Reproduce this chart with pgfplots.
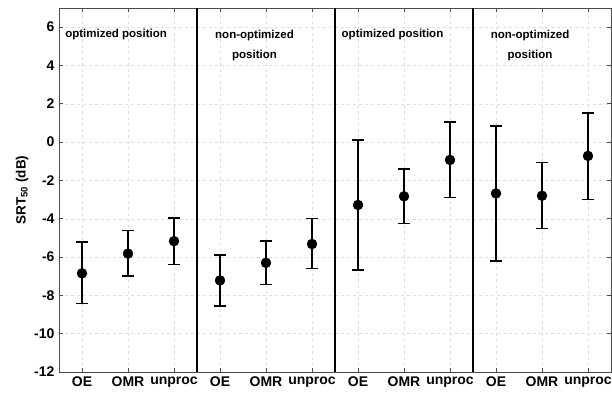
\documentclass[border=0pt]{standalone}
\usepackage{fontspec}
\setmainfont{Liberation Sans}
\usepackage{pgfplots}
\usepackage{pgfplotstable}
\pgfplotsset{compat=1.18}
\pgfplotstableread{
x y ep em
1 -6.85 1.63 1.58
2 -5.82 1.20 1.16
3 -5.17 1.22 1.21
4 -7.22 1.34 1.33
5 -6.30 1.15 1.13
6 -5.32 1.32 1.29
7 -3.28 3.38 3.40
8 -2.83 1.43 1.43
9 -0.93 1.98 1.95
10 -2.68 3.51 3.52
11 -2.80 1.73 1.72
12 -0.72 2.24 2.28
}\srtdata
\begin{document}
\begin{tikzpicture}
\begin{axis}[
  scale only axis,
  width=552pt, height=364pt,
  xmin=0.5, xmax=12.5, ymin=-12, ymax=7,
  xtick={1,...,12},
  xticklabels={OE,OMR,unproc,OE,OMR,unproc,OE,OMR,unproc,OE,OMR,unproc},
  ytick={-12,-10,...,6},
  /pgf/number format/assume math mode=true,
  tick label style={font=\bfseries\fontsize{14}{16}\selectfont},
  xticklabel style={yshift=-1pt},
  yticklabel style={xshift=-1pt},
  ylabel={\bfseries SRT\textsubscript{50} (dB)},
  ylabel style={font=\fontsize{13.5}{16}\selectfont, yshift=-1pt},
  grid=major,
  major grid style={dashed, gray!25, line width=0.4pt},
  axis line style={draw=black!70, line width=0.6pt},
  tick style={draw=black!70, line width=0.6pt},
  tick align=inside,
  major tick length=4pt,
  clip=false,
]
\addplot[only marks, mark=*, mark size=5pt, black,
  error bars/.cd, y dir=both, y explicit,
  error bar style={line width=1.5pt, black},
  error mark options={rotate=90, mark size=6pt, line width=1.5pt, black}]
  table[x=x, y=y, y error plus=ep, y error minus=em] {\srtdata};
\addplot[black, line width=1.5pt] coordinates {(3.5,-12) (3.5,7)};
\addplot[black, line width=1.5pt] coordinates {(6.5,-12) (6.5,7)};
\addplot[black, line width=1.5pt] coordinates {(9.5,-12) (9.5,7)};
\node[font=\bfseries\fontsize{11.5}{14}\selectfont, anchor=center] at (axis cs:1.74,5.6) {optimized position};
\node[font=\bfseries\fontsize{11.5}{20}\selectfont, align=center, anchor=north] at (axis cs:4.75,6.02) {non-optimized\\position};
\node[font=\bfseries\fontsize{11.5}{14}\selectfont, anchor=center] at (axis cs:7.75,5.6) {optimized position};
\node[font=\bfseries\fontsize{11.5}{20}\selectfont, align=center, anchor=north] at (axis cs:10.74,6.02) {non-optimized\\position};
\end{axis}
\pgfresetboundingbox
\path ([shift={(-59pt,-22pt)}]current axis.south west) rectangle ([shift={(1pt,8pt)}]current axis.north east);
\end{tikzpicture}
\end{document}
